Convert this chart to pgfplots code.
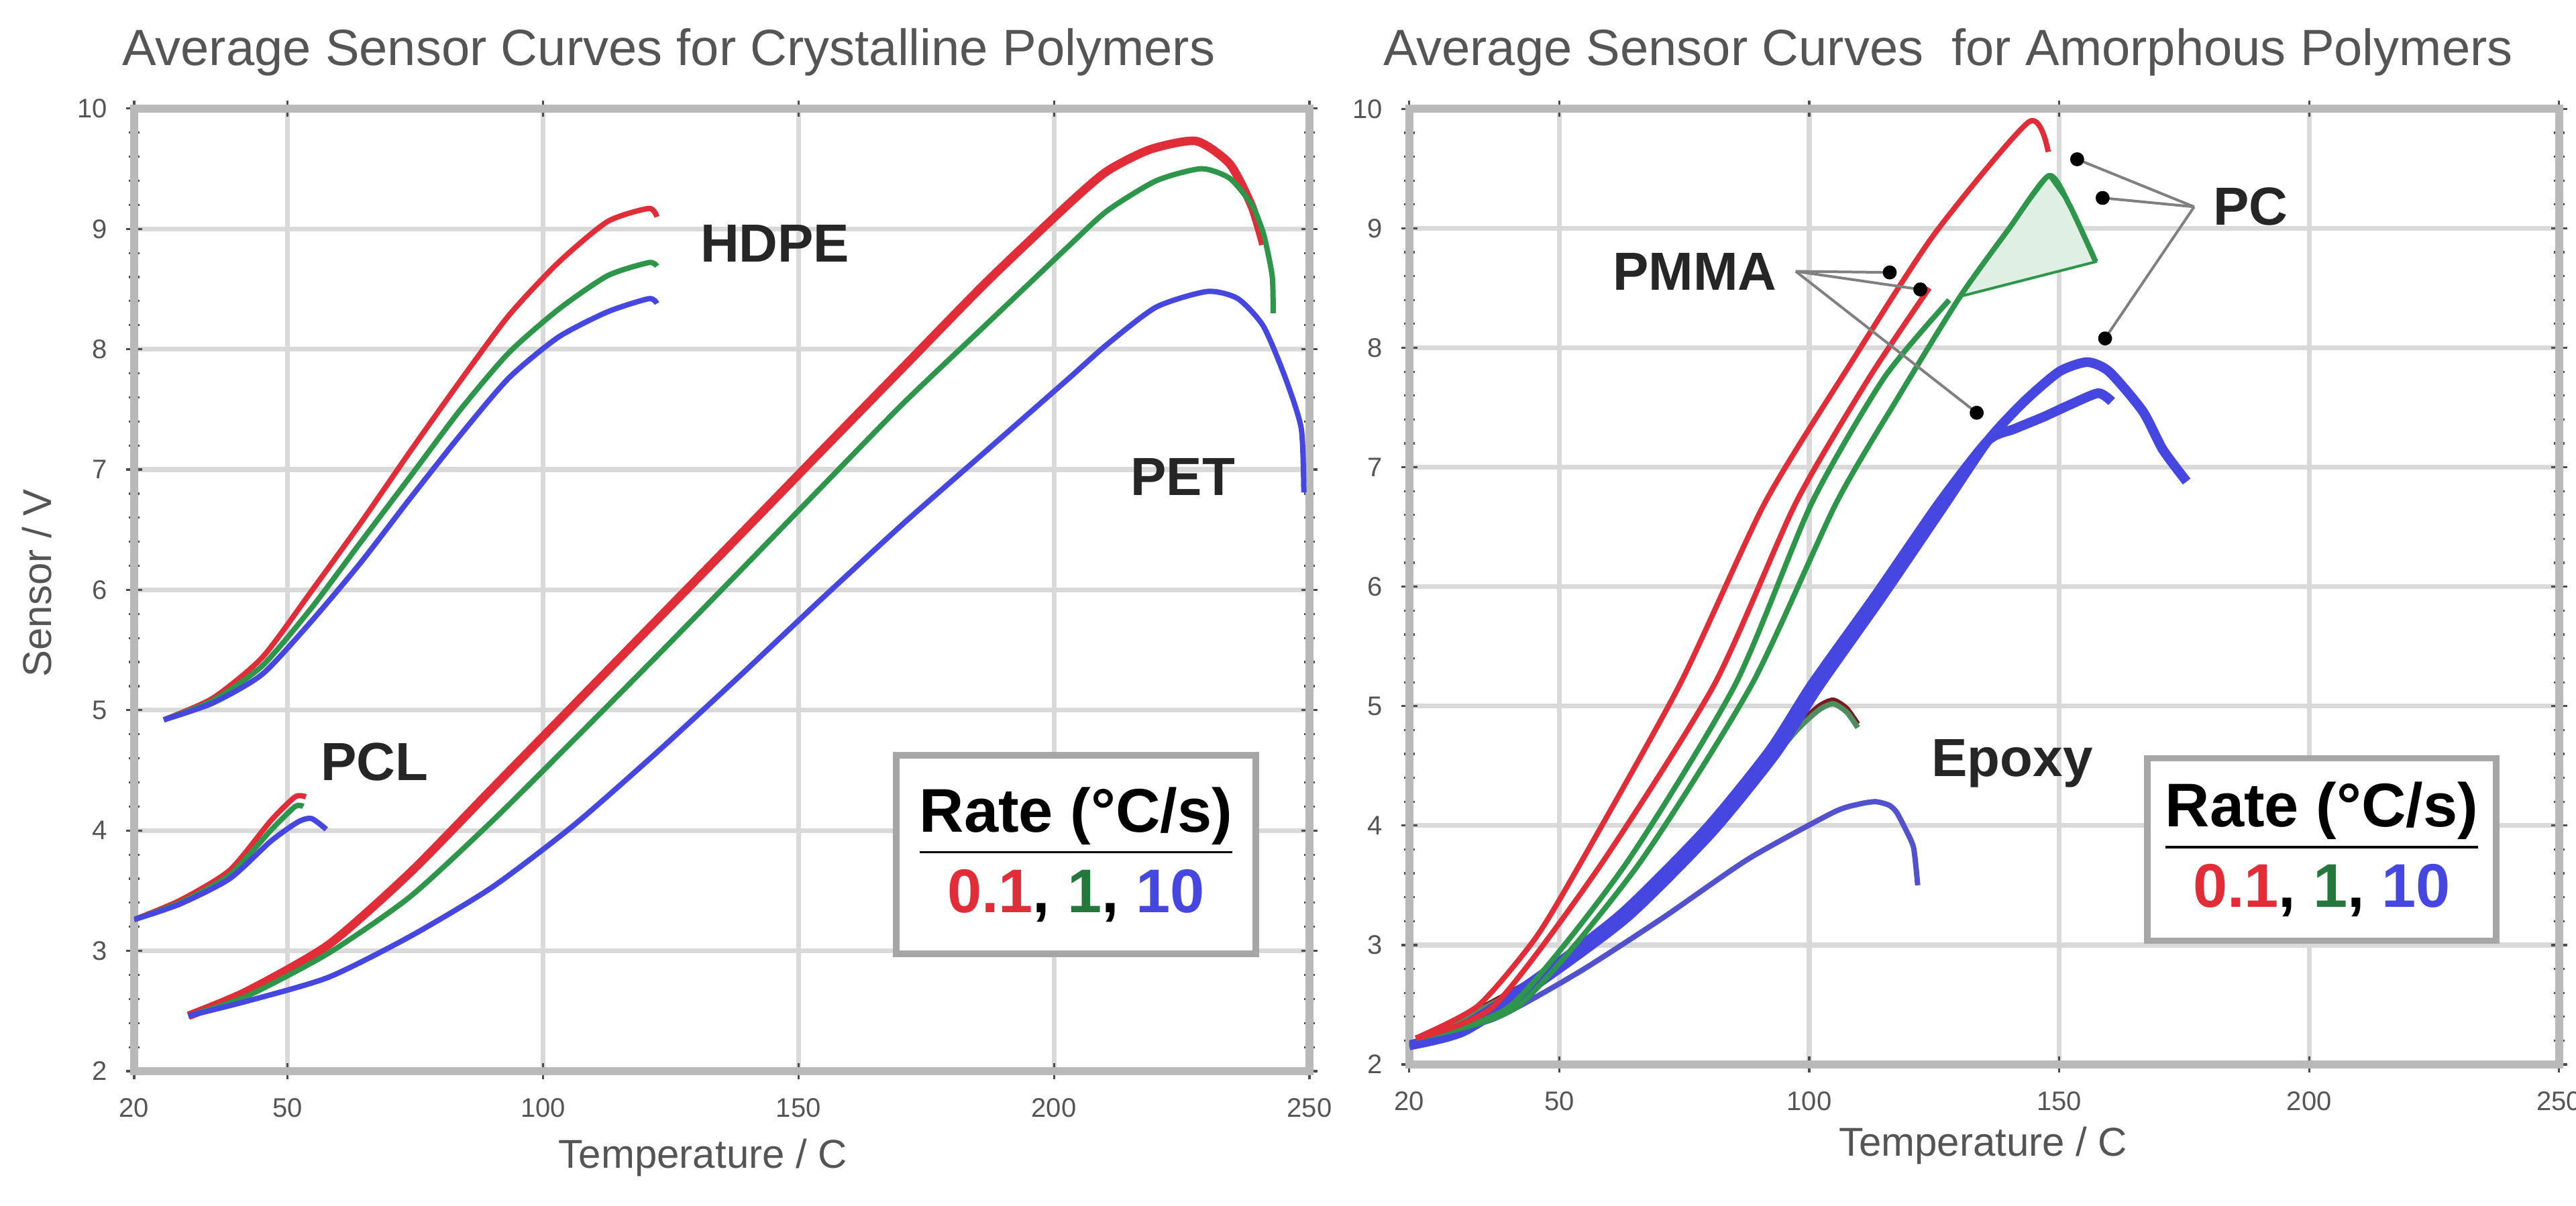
\documentclass[border=0pt]{standalone}
\usepackage{fontspec}
\setmainfont{Liberation Sans}
\usepackage{pgfplots}
\pgfplotsset{compat=1.18}
\usetikzlibrary{arrows.meta}

\definecolor{cr}{RGB}{225,45,55}
\definecolor{cg}{RGB}{45,150,75}
\definecolor{cb}{RGB}{70,70,225}
\definecolor{txt}{RGB}{85,85,85}

\tikzset{lbl/.style={font=\fontsize{10}{12}\selectfont\bfseries, text=black!85}}

\pgfplotsset{
  sensor/.style={
    scale only axis,
    xmin=20, xmax=250, ymin=2, ymax=10,
    xtick={20,50,100,150,200,250},
    ytick={2,3,...,10},
    minor x tick num=4, minor y tick num=4,
    grid=major,
    major grid style={draw=gray!30, line width=0.9pt},
    axis line style={draw=gray!55, line width=1.5pt},
    tick style={draw=gray!60!black, line width=0.4pt},
    major tick length=3pt, minor tick length=2pt, tick align=center,
    ticklabel style={font=\fontsize{5}{6}\selectfont, text=txt},
    /pgf/number format/assume math mode=true,
    xlabel style={font=\fontsize{7.5}{8}\selectfont, text=txt},
    ylabel style={font=\fontsize{7.5}{8}\selectfont, text=txt},
    every axis plot/.append style={line width=1pt, no markers, smooth, tension=0.4},
  },
}

\begin{document}
\begin{tikzpicture}
\useasboundingbox (0,0) rectangle (480pt,224.625pt);

\node[font=\fontsize{9.5}{11}\selectfont, text=txt] at (124.6pt,214.9pt) {Average Sensor Curves for Crystalline Polymers};
\node[font=\fontsize{9.5}{11}\selectfont, text=txt] at (363pt,214.9pt) {Average Sensor Curves\ \ for Amorphous Polymers};

% ---------- crystalline ----------
\begin{axis}[sensor, at={(25pt,25pt)}, anchor=south west, width=219pt, height=179.4pt,
  xlabel={Temperature / C}, ylabel={Sensor / V},
  xlabel style={at={(axis description cs:0.484,-0.09)}, anchor=center},
  ylabel style={at={(axis description cs:-0.083,0.507)}, anchor=center}]
% HDPE
\addplot[cr] coordinates {(25.8,4.92) (35.4,5.10) (45.1,5.44) (54.7,5.99) (64.4,6.56) (74.0,7.15) (83.7,7.73) (93.3,8.28) (103.0,8.72) (112.6,9.06) (120.7,9.17) (122.3,9.10)};
\addplot[cg] coordinates {(25.8,4.92) (35.4,5.08) (45.1,5.37) (54.7,5.85) (64.4,6.40) (74.0,6.94) (83.7,7.49) (93.3,7.97) (103.0,8.33) (112.6,8.61) (120.7,8.72) (122.3,8.69)};
\addplot[cb] coordinates {(25.8,4.92) (35.4,5.06) (45.1,5.30) (54.7,5.74) (64.4,6.23) (74.0,6.76) (83.7,7.28) (93.3,7.76) (103.0,8.10) (112.6,8.31) (120.7,8.42) (122.3,8.38)};
% PCL
\addplot[cr] coordinates {(20,3.26) (29.0,3.42) (38.7,3.67) (46.7,4.08) (51.5,4.28) (53.6,4.28)};
\addplot[cg] coordinates {(20,3.26) (29.0,3.40) (38.7,3.63) (46.7,4.00) (51.5,4.20) (53.1,4.20)};
\addplot[cb] coordinates {(20,3.26) (29.0,3.39) (38.7,3.60) (46.7,3.91) (52.0,4.07) (54.7,4.10) (57.6,4.01)};
% PET
\addplot[cr, line width=1.6pt] coordinates {(30.6,2.46) (41.9,2.66) (58.0,3.05) (74.0,3.65) (90.1,4.35) (106.2,5.05) (122.3,5.75) (138.4,6.45) (154.4,7.15) (170.5,7.85) (186.6,8.55) (202.7,9.20) (210.4,9.48) (218.8,9.66) (227.8,9.73) (234.4,9.54) (238.7,9.19) (241.0,8.87)};
\addplot[cg] coordinates {(30.6,2.46) (41.9,2.62) (58.0,2.98) (74.0,3.45) (90.1,4.08) (106.2,4.76) (122.3,5.45) (138.4,6.15) (154.4,6.85) (170.5,7.55) (186.6,8.20) (202.7,8.85) (210.4,9.15) (220.0,9.40) (228.8,9.50) (234.4,9.42) (238.7,9.20) (241.0,8.96) (242.7,8.61) (242.9,8.30)};
\addplot[cb] coordinates {(30.6,2.46) (41.9,2.58) (58.0,2.78) (74.0,3.12) (90.1,3.53) (106.2,4.05) (122.3,4.65) (138.4,5.28) (154.4,5.92) (170.5,6.55) (186.6,7.15) (202.7,7.75) (210.4,8.04) (220.0,8.35) (230.0,8.48) (236.0,8.42) (241.0,8.19) (245.3,7.76) (248.4,7.34) (248.9,6.81)};

\node[lbl] at (axis cs:145.4,8.88) {HDPE};
\node[lbl] at (axis cs:67,4.57) {PCL};
\node[lbl] at (axis cs:225.2,6.94) {PET};
\node[draw=gray!70, line width=1.2pt, fill=white, minimum width=67pt, minimum height=37pt,
      align=center, font=\fontsize{11.5}{15}\selectfont\bfseries] at (axis cs:204.3,3.80)
  {\underline{Rate (°C/s)}\\ \textcolor{cr}{0.1}, \textcolor{cg!80!black}{1}, \textcolor{cb}{10}};
\end{axis}

% ---------- amorphous ----------
\begin{axis}[sensor, at={(262.6pt,26.25pt)}, anchor=south west, width=214.25pt, height=178.1pt,
  xlabel={Temperature / C},
  xlabel style={at={(axis description cs:0.499,-0.085)}, anchor=center}]
% green PC cooling loop fill
\addplot[cg, line width=0.5pt, fill=cg!15, sharp plot] coordinates {(130.2,8.43) (140,9.0) (147.9,9.44) (152,9.2) (157.3,8.72)} -- cycle;
% Epoxy
\addplot[cr!55!black] coordinates {(20,2.16) (45.1,2.72) (62.4,3.25) (79.3,3.95) (92.4,4.58) (98,4.85) (102,5.00) (104.8,5.05) (107.5,4.98) (109.7,4.85)};
\addplot[cg!60!gray] coordinates {(20,2.16) (45.1,2.70) (62.4,3.22) (79.3,3.92) (92.4,4.55) (98,4.82) (102,4.97) (104.8,5.02) (107.5,4.95) (109.7,4.82)};
\addplot[cb!80!gray] coordinates {(21.3,2.22) (36.8,2.38) (53.8,2.77) (70.8,3.23) (87.8,3.72) (104.8,4.11) (110,4.18) (113.3,4.20) (116,4.17) (117.5,4.11) (119.5,3.95) (120.9,3.81) (121.7,3.50)};
% PMMA / PC 10 C/s
\addplot[cb, line width=1.8pt] coordinates {(20,2.16) (30,2.30) (45.1,2.71) (62.4,3.26) (79.3,3.97) (92.1,4.63) (100.5,5.18) (113.3,5.93) (126,6.70) (135.7,7.22) (141,7.32) (146.8,7.42) (152,7.52) (157.8,7.62) (160.5,7.55)};
\addplot[cb, line width=1.8pt] coordinates {(20,2.16) (31,2.28) (46.5,2.70) (63.8,3.24) (80.5,3.94) (93.3,4.60) (101.7,5.15) (114.5,5.91) (127,6.68) (135.7,7.22) (143,7.55) (150,7.80) (155.6,7.88) (160,7.80) (166.7,7.47) (170.7,7.15) (175.5,6.88)};
% 1 C/s
\addplot[cg] coordinates {(21.3,2.22) (40.2,2.49) (63.0,3.66) (85.2,5.18) (100.5,6.70) (115,7.75) (128,8.40)};
\addplot[cg] coordinates {(21.3,2.22) (41.8,2.49) (65.6,3.66) (88.5,5.18) (105.4,6.70) (118,7.60) (130.2,8.43) (140,9.0) (147.9,9.44) (152,9.2) (157.3,8.72)};
% 0.1 C/s
\addplot[cr] coordinates {(21.3,2.22) (36.9,2.49) (58.1,3.66) (81.0,5.18) (97.3,6.70) (112,7.75) (124,8.50)};
\addplot[cr] coordinates {(21.3,2.22) (33.7,2.49) (45.1,3.05) (53.9,3.66) (74.1,5.18) (91.1,6.70) (108,7.85) (125,8.95) (143.9,9.89) (147.8,9.64)};

% annotations
\node[lbl, anchor=east] (pmma) at (axis cs:97.3,8.64) {PMMA};
\node[lbl, anchor=west] (pc) at (axis cs:177,9.18) {PC};
\node[lbl] at (axis cs:140.6,4.52) {Epoxy};
\begin{scope}[gray, line width=0.5pt, -{Circle[black,length=2.6pt]}]
\draw (pmma.east) -- (axis cs:117.5,8.63);
\draw (pmma.east) -- (axis cs:123.6,8.48);
\draw (pmma.east) -- (axis cs:134.6,7.42);
\draw (pc.west) -- (axis cs:152.3,9.60);
\draw (pc.west) -- (axis cs:157.3,9.26);
\draw (pc.west) -- (axis cs:158.4,8.03);
\end{scope}
\node[draw=gray!70, line width=1.2pt, fill=white, minimum width=65pt, minimum height=34pt,
      align=center, font=\fontsize{11.5}{15}\selectfont\bfseries] at (axis cs:202.5,3.80)
  {\underline{Rate (°C/s)}\\ \textcolor{cr}{0.1}, \textcolor{cg!80!black}{1}, \textcolor{cb}{10}};
\end{axis}
\end{tikzpicture}
\end{document}
